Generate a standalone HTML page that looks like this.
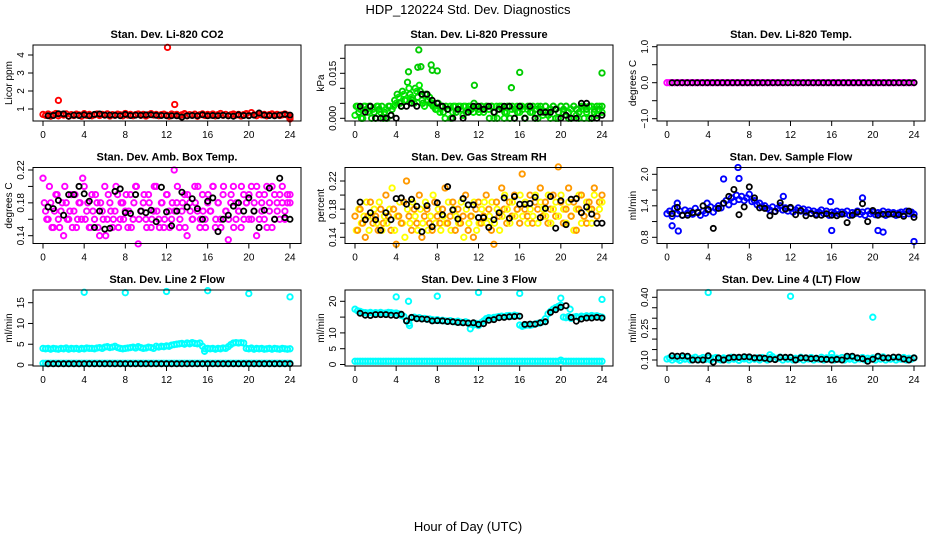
<!DOCTYPE html>
<html><head><meta charset="utf-8"><style>
html,body{margin:0;padding:0;background:#fff;}
svg{display:block;font-family:"Liberation Sans",sans-serif;}
</style></head><body>
<svg id="fig" width="936" height="540" viewBox="0 0 936 540" xmlns="http://www.w3.org/2000/svg">
<rect width="936" height="540" fill="#fff"/>
<text x="468" y="14" font-size="13" text-anchor="middle">HDP_120224  Std. Dev. Diagnostics</text>
<text x="468" y="531" font-size="13" text-anchor="middle">Hour of Day (UTC)</text>
</svg>
<script>
// ---- data (colored series evenly spaced over 0-24 h; black series every 0.5 h) ----
const hourTicks = [0,4,8,12,16,20,24];

const co2Red = [0.7,0.65,0.72,0.6,0.68,0.75,0.62,0.7,0.66,0.73,0.6,0.69,0.64,0.71,0.67,0.6,0.74,0.65,0.7,0.62,0.68,0.72,0.64,0.7,0.66,0.73,0.61,0.69,0.65,0.71,0.68,0.62,0.75,0.66,0.7,0.63,0.69,0.72,0.65,0.7,0.61,0.68,0.74,0.66,0.7,0.63,0.69,0.71,0.66,0.6,0.72,0.67,0.7,0.63,0.68,0.74,0.62,0.69,0.66,0.71,0.6,0.68,0.73,0.64,0.7,0.66,0.72,0.62,0.69,0.75,0.65,0.7,0.63,0.68,0.72,0.66,0.7,0.61,0.69,0.74,0.65,0.8,0.68,0.63,0.71,0.67,0.7,0.62,0.69,0.73,0.65,0.7,0.64,0.68,0.72,0.66,0.55];
const co2RedOutX = [1.5,12.1,12.8,24];
const co2RedOutY = [1.48,4.42,1.25,0.45];
const co2Black = [0.62,0.64,0.74,0.73,0.6,0.66,0.64,0.68,0.63,0.7,0.72,0.66,0.66,0.65,0.63,0.7,0.64,0.66,0.65,0.67,0.68,0.65,0.64,0.63,0.63,0.62,0.55,0.62,0.64,0.63,0.68,0.62,0.64,0.63,0.65,0.62,0.6,0.68,0.64,0.62,0.66,0.78,0.66,0.64,0.62,0.66,0.7,0.66];

const presGreenA = [0.001,0.004,0.003,0.0,0.004,0.002,0.004,0.003,0.0,0.004,0.002,0.0,0.003,0.004,0.001,0.004,0.005,0.007,0.004,0.008,0.006,0.01,0.007,0.005,0.009,0.011,0.006,0.004,0.008,0.007,0.005,0.004,0.003,0.002,0.004,0.0,0.003,0.004,0.002,0.004,0.003,0.004,0.001,0.004,0.003,0.004,0.002,0.004,0.003,0.004,0.002,0.004,0.003,0.004,0.0,0.004,0.003,0.004,0.0,0.002,0.004,0.003,0.0,0.004,0.002,0.004,0.0,0.003,0.004,0.002,0.0,0.004,0.003,0.001,0.004,0.002,0.0,0.004,0.003,0.0,0.004,0.002,0.004,0.0,0.003,0.004,0.001,0.0,0.003,0.004,0.002,0.0,0.004,0.003,0.001,0.004,0.002];
const presGreenB = [0.004,0.002,0.0,0.004,0.003,0.004,0.0,0.002,0.004,0.003,0.004,0.002,0.0,0.004,0.003,0.006,0.008,0.005,0.009,0.006,0.012,0.008,0.006,0.01,0.007,0.009,0.005,0.008,0.006,0.005,0.004,0.003,0.005,0.004,0.002,0.004,0.003,0.0,0.004,0.002,0.004,0.003,0.004,0.002,0.004,0.003,0.005,0.004,0.002,0.004,0.003,0.004,0.0,0.004,0.002,0.0,0.004,0.003,0.002,0.004,0.0,0.004,0.003,0.002,0.004,0.003,0.0,0.004,0.002,0.004,0.003,0.0,0.004,0.002,0.004,0.001,0.003,0.004,0.0,0.002,0.004,0.003,0.004,0.002,0.0,0.004,0.003,0.002,0.004,0.0,0.003,0.004,0.0,0.002,0.004,0.003,0.004];
const presOutX = [5.2,6.1,6.4,7.4,7.5,8.0,16.0,24.0,6.2,15.2,11.6];
const presOutY = [0.0155,0.017,0.0172,0.0178,0.016,0.0158,0.0153,0.0151,0.0228,0.0102,0.011];
const presBlack = [0.004,0.002,0.004,0.0,0.0,0.0,0.001,0.0,0.004,0.004,0.005,0.004,0.008,0.008,0.006,0.005,0.004,0.003,0.0,0.003,0.0,0.002,0.004,0.004,0.003,0.004,0.002,0.003,0.004,0.004,0.0,0.004,0.0,0.004,0.0,0.002,0.002,0.002,0.003,0.0,0.001,0.0,0.0,0.005,0.005,0.0,0.0,0.001];

const tempMag = [0,0,0,0,0,0,0,0,0,0,0,0,0,0,0,0,0,0,0,0,0,0,0,0,0,0,0,0,0,0,0,0,0,0,0,0,0,0,0,0,0,0,0,0,0,0,0,0,0,0,0,0,0,0,0,0,0,0,0,0,0,0,0,0,0,0,0,0,0,0,0,0,0,0,0,0,0,0,0,0,0,0,0,0,0,0,0,0,0,0,0,0,0,0,0,0,0];
const tempBlack = [0,0,0,0,0,0,0,0,0,0,0,0,0,0,0,0,0,0,0,0,0,0,0,0,0,0,0,0,0,0,0,0,0,0,0,0,0,0,0,0,0,0,0,0,0,0,0,0,0];

const boxMagA = [0.21,0.17,0.16,0.18,0.15,0.19,0.16,0.17,0.14,0.18,0.16,0.19,0.17,0.15,0.18,0.16,0.2,0.17,0.15,0.19,0.16,0.18,0.14,0.17,0.2,0.16,0.18,0.15,0.17,0.19,0.16,0.18,0.17,0.15,0.19,0.16,0.2,0.13,0.17,0.18,0.16,0.19,0.15,0.17,0.2,0.16,0.18,0.15,0.19,0.17,0.16,0.22,0.18,0.15,0.17,0.19,0.14,0.18,0.16,0.2,0.17,0.15,0.19,0.16,0.18,0.17,0.2,0.15,0.18,0.16,0.19,0.17,0.135,0.18,0.2,0.16,0.17,0.15,0.19,0.18,0.16,0.2,0.17,0.14,0.19,0.18,0.16,0.2,0.17,0.15,0.19,0.18,0.16,0.2,0.17,0.18,0.19];
const boxMagB = [0.18,0.16,0.2,0.15,0.17,0.19,0.15,0.18,0.2,0.16,0.17,0.15,0.19,0.16,0.18,0.21,0.16,0.18,0.15,0.17,0.19,0.15,0.18,0.16,0.14,0.19,0.17,0.16,0.2,0.15,0.18,0.16,0.19,0.17,0.15,0.18,0.2,0.16,0.17,0.19,0.15,0.18,0.16,0.2,0.17,0.15,0.18,0.16,0.19,0.15,0.18,0.17,0.2,0.16,0.18,0.15,0.19,0.17,0.16,0.18,0.2,0.16,0.17,0.15,0.19,0.17,0.2,0.16,0.18,0.15,0.2,0.17,0.16,0.19,0.15,0.18,0.17,0.2,0.16,0.18,0.19,0.16,0.18,0.2,0.16,0.17,0.19,0.15,0.18,0.2,0.16,0.17,0.19,0.18,0.16,0.19,0.18];
const boxBlack = [0.175,0.173,0.183,0.165,0.19,0.19,0.2,0.191,0.182,0.15,0.17,0.148,0.149,0.194,0.197,0.168,0.167,0.19,0.17,0.168,0.171,0.157,0.199,0.169,0.152,0.17,0.193,0.175,0.185,0.173,0.16,0.182,0.186,0.145,0.16,0.165,0.176,0.18,0.17,0.186,0.17,0.15,0.171,0.198,0.16,0.21,0.162,0.16];

const rhOrange = [0.17,0.15,0.18,0.16,0.14,0.17,0.19,0.16,0.17,0.15,0.18,0.16,0.2,0.17,0.15,0.18,0.13,0.17,0.16,0.19,0.22,0.17,0.15,0.18,0.16,0.2,0.14,0.17,0.18,0.16,0.15,0.19,0.17,0.16,0.18,0.21,0.16,0.17,0.19,0.15,0.18,0.16,0.17,0.2,0.15,0.17,0.14,0.18,0.19,0.16,0.17,0.2,0.18,0.15,0.13,0.19,0.17,0.21,0.18,0.16,0.19,0.17,0.2,0.18,0.16,0.23,0.18,0.17,0.2,0.16,0.19,0.18,0.21,0.17,0.19,0.16,0.18,0.2,0.17,0.24,0.19,0.16,0.18,0.21,0.17,0.19,0.15,0.18,0.2,0.17,0.16,0.19,0.18,0.21,0.17,0.19,0.2];
const rhYellow = [0.15,0.18,0.16,0.17,0.19,0.15,0.17,0.18,0.16,0.19,0.15,0.17,0.16,0.18,0.21,0.15,0.17,0.19,0.16,0.14,0.18,0.16,0.19,0.17,0.15,0.18,0.16,0.19,0.15,0.17,0.2,0.16,0.18,0.15,0.17,0.16,0.19,0.15,0.18,0.17,0.16,0.19,0.14,0.18,0.16,0.17,0.19,0.15,0.16,0.18,0.19,0.16,0.17,0.19,0.16,0.18,0.15,0.17,0.2,0.18,0.16,0.19,0.17,0.18,0.2,0.17,0.19,0.16,0.18,0.17,0.2,0.16,0.19,0.18,0.17,0.2,0.16,0.18,0.19,0.17,0.2,0.18,0.16,0.19,0.17,0.15,0.18,0.2,0.16,0.17,0.19,0.18,0.16,0.2,0.17,0.18,0.19];
const rhBlack = [0.19,0.165,0.175,0.165,0.15,0.175,0.165,0.195,0.196,0.187,0.194,0.184,0.148,0.185,0.155,0.189,0.172,0.212,0.179,0.166,0.195,0.186,0.186,0.168,0.168,0.154,0.165,0.175,0.196,0.167,0.198,0.187,0.187,0.188,0.197,0.168,0.181,0.198,0.153,0.192,0.158,0.194,0.195,0.175,0.183,0.173,0.16,0.16];

const flowBlue = [1.25,1.3,1.2,1.35,1.25,1.3,1.22,1.32,1.26,1.3,1.24,1.35,1.28,1.22,1.3,1.26,1.32,1.38,1.28,1.35,1.4,1.36,1.45,1.5,1.42,1.55,1.48,1.6,1.52,1.58,1.5,1.55,1.62,1.48,1.5,1.42,1.45,1.38,1.4,1.35,1.32,1.38,1.3,1.35,1.4,1.32,1.36,1.3,1.35,1.28,1.32,1.36,1.3,1.34,1.28,1.32,1.26,1.3,1.25,1.28,1.32,1.25,1.3,1.22,1.28,1.26,1.3,1.24,1.28,1.25,1.3,1.22,1.27,1.25,1.3,1.24,1.28,1.22,1.3,1.25,1.28,1.23,1.27,1.25,1.3,1.22,1.28,1.25,1.27,1.22,1.26,1.28,1.24,1.3,1.25,1.28,1.24];
const flowOutX = [0.5,1.1,5.5,6.9,7.0,11.3,15.9,16.0,19.0,20.5,21.0,24.0,1.0,3.9];
const flowOutY = [1.02,0.92,1.91,2.13,1.92,1.58,1.48,0.93,1.55,0.93,0.9,0.72,1.45,1.45];
const flowBlack = [1.25,1.37,1.22,1.22,1.27,1.27,1.4,1.33,0.97,1.35,1.45,1.58,1.71,1.23,1.38,1.76,1.55,1.36,1.35,1.21,1.29,1.46,1.34,1.37,1.23,1.31,1.21,1.25,1.22,1.22,1.25,1.22,1.21,1.24,1.08,1.22,1.28,1.44,1.1,1.31,1.22,1.24,1.24,1.24,1.23,1.2,1.3,1.18];

const line2Cyan = [4,3.9,4,3.8,4,3.9,3.8,4,3.9,4.1,3.8,4,3.9,4,3.8,4,3.9,4.1,4,4,3.9,4.1,4.2,4,4.3,4.4,4.2,4.3,4.5,4.2,4,3.9,4,4.1,4.2,4.3,4.1,4.4,4.2,4,4.1,4.3,4.2,4,4.5,4.3,4.5,4.4,4.6,4.5,4.8,4.9,5,5.1,5.2,5,5.3,5.1,5.4,5.2,5.1,5.3,4.5,3.9,4,3.9,4,3.8,4,3.9,4.1,4,4.4,4.9,5.3,5.4,5.3,5.4,5.3,4,3.9,4.1,3.8,4,3.9,4,3.8,3.9,4,3.8,4,3.9,3.8,4,3.9,3.8,3.9];
const line2Base = [0.4,0.4,0.4,0.4,0.4,0.4,0.4,0.4,0.4,0.4,0.4,0.4,0.4,0.4,0.4,0.4,0.4,0.4,0.4,0.4,0.4,0.4,0.4,0.4,0.4,0.4,0.4,0.4,0.4,0.4,0.4,0.4,0.4,0.4,0.4,0.4,0.4,0.4,0.4,0.4,0.4,0.4,0.4,0.4,0.4,0.4,0.4,0.4,0.4,0.4,0.4,0.4,0.4,0.4,0.4,0.4,0.4,0.4,0.4,0.4,0.4,0.4,0.4,0.4,0.4,0.4,0.4,0.4,0.4,0.4,0.4,0.4,0.4,0.4,0.4,0.4,0.4,0.4,0.4,0.4,0.4,0.4,0.4,0.4,0.4,0.4,0.4,0.4,0.4,0.4,0.4,0.4,0.4,0.4,0.4,0.4,0.4];
const line2OutX = [4,8,12,16,20,24,15.7];
const line2OutY = [17.5,17.4,17.7,17.9,17.2,16.4,3.3];
const line2Black = [0.3,0.3,0.3,0.3,0.3,0.3,0.3,0.3,0.3,0.3,0.3,0.3,0.3,0.3,0.3,0.3,0.3,0.3,0.3,0.3,0.3,0.3,0.3,0.3,0.3,0.3,0.3,0.3,0.3,0.3,0.3,0.3,0.3,0.3,0.3,0.3,0.3,0.3,0.3,0.3,0.3,0.3,0.3,0.3,0.3,0.3,0.3,0.3];

const line3Cyan = [17.5,17,16.8,16.5,16.4,16.3,16.5,16.2,16.4,16.3,16.5,16.2,16.3,16.5,16.4,16.2,16.3,16,15.5,15.2,13.8,13,14.8,15,14.6,14.8,14.5,14.6,14.3,14.4,14.2,14,14.2,13.9,14,13.8,13.7,13.9,13.6,13.5,13.7,13.4,13.3,13.5,13.2,12.8,12.5,13,12.3,13.2,13.8,14.5,14.8,14.6,14.9,15,15.2,15.3,15.1,15.4,15.5,15.3,15.6,15.4,12.5,12.1,12.3,12.5,12.4,12.6,12.8,13,13.2,13.5,14.5,16,16.8,17.5,18,18.4,18.8,15,14.8,15.2,14.6,15,15.2,14.9,15.3,15.1,15.4,15.2,15.5,15.3,15.4,15.2,15];
const line3Base = [1,1,1,1,1,1,1,1,1,1,1,1,1,1,1,1,1,1,1,1,1,1,1,1,1,1,1,1,1,1,1,1,1,1,1,1,1,1,1,1,1,1,1,1,1,1,1,1,1,1,1,1,1,1,1,1,1,1,1,1,1,1,1,1,1,1,1,1,1,1,1,1,1,1,1,1,1,1,1,1,1.4,1,1,1,1,1,1,1,1,1,1,1,1,1,1,1,1];
const line3OutX = [4,5.2,8,11.2,12,16,20,20.9,24,5.3];
const line3OutY = [21.4,20,21.6,11.3,22.8,22.5,21,17.5,20.6,12.3];
const line3Black = [16.2,15.6,15.5,15.8,15.8,15.8,15.6,15.5,15.9,13.8,14.9,14.5,14.4,14.3,13.8,13.9,13.8,13.6,13.5,13.3,13.2,13.1,13.2,12.7,12.9,14.0,14.2,14.8,14.9,15.1,15.2,15.3,12.7,12.8,12.8,13.2,13.5,16.5,17.3,18.1,18.6,14.9,13.7,14.4,14.7,14.7,14.9,14.7];

const line4Cyan = [0.105,0.11,0.1,0.112,0.105,0.098,0.11,0.104,0.112,0.1,0.108,0.113,0.1,0.106,0.112,0.103,0.11,0.1,0.108,0.112,0.104,0.1,0.11,0.106,0.1,0.113,0.104,0.11,0.098,0.108,0.105,0.112,0.1,0.108,0.104,0.11,0.1,0.112,0.106,0.1,0.11,0.116,0.104,0.108,0.114,0.1,0.11,0.104,0.112,0.1,0.108,0.104,0.113,0.1,0.11,0.105,0.112,0.1,0.108,0.104,0.113,0.1,0.11,0.105,0.112,0.1,0.109,0.104,0.112,0.1,0.108,0.104,0.112,0.1,0.109,0.105,0.112,0.1,0.108,0.104,0.11,0.1,0.113,0.104,0.115,0.1,0.108,0.104,0.112,0.1,0.108,0.104,0.112,0.1,0.108,0.104,0.11];
const line4OutX = [4,12,20,16,10];
const line4OutY = [0.423,0.405,0.305,0.13,0.125];
const line4Black = [0.12,0.118,0.12,0.118,0.1,0.1,0.1,0.12,0.09,0.11,0.1,0.11,0.113,0.113,0.116,0.115,0.11,0.11,0.108,0.104,0.102,0.113,0.113,0.113,0.1,0.11,0.11,0.106,0.108,0.104,0.103,0.1,0.103,0.1,0.118,0.118,0.11,0.106,0.094,0.104,0.118,0.11,0.11,0.114,0.114,0.105,0.1,0.11];

// ---- layout ----
const svg = document.getElementById('fig');
const NS = 'http://www.w3.org/2000/svg';
function mk(tag, attrs, parent){ const e=document.createElementNS(NS,tag); for(const k in attrs) e.setAttribute(k,attrs[k]); (parent||svg).appendChild(e); return e; }

const panels = [
 {name:'co2',title:'Stan. Dev. Li-820 CO2',ylab:'Licor ppm',c:0,r:0,ref:[1,109,4,55],ticks:[1,2,3,4],labels:['1','2','3','4'],
  series:[{d:co2Red,col:'#ff0000'},{d:co2Black,col:'#000',black:true},{x:co2RedOutX,y:co2RedOutY,col:'#ff0000'}]},
 {name:'pressure',title:'Stan. Dev. Li-820 Pressure',ylab:'kPa',c:1,r:0,ref:[0,118.3,0.015,73.3],ticks:[0,0.005,0.01,0.015,0.02],labels:['0.000','','','0.015',''],
  series:[{d:presGreenA,col:'#00ee00'},{d:presGreenB,col:'#00cc00',off:0.125},{x:presOutX,y:presOutY,col:'#00cc00'},{d:presBlack,col:'#000',black:true}]},
 {name:'temp',title:'Stan. Dev. Li-820 Temp.',ylab:'degrees C',c:2,r:0,ref:[0,82.7,1,46.7],ticks:[-1,-0.5,0,0.5,1],labels:['\u22121.0','','0.0','','1.0'],
  series:[{d:tempMag,col:'#ff00ff'},{d:tempBlack,col:'#000',black:true}]},
 {name:'amb-box-temp',title:'Stan. Dev. Amb. Box Temp.',ylab:'degrees C',c:0,r:1,ref:[0.14,235.7,0.22,170],ticks:[0.14,0.16,0.18,0.2,0.22],labels:['0.14','','0.18','','0.22'],
  series:[{d:boxMagA,col:'#ff00ff'},{d:boxMagB,col:'#ff00ff',off:0.125},{d:boxBlack,col:'#000',black:true}]},
 {name:'gas-rh',title:'Stan. Dev. Gas Stream RH',ylab:'percent',c:1,r:1,ref:[0.14,237.3,0.22,181],ticks:[0.14,0.16,0.18,0.2,0.22],labels:['0.14','','0.18','','0.22'],
  series:[{d:rhYellow,col:'#ffff00',off:0.125},{d:rhOrange,col:'#ff9900'},{d:rhBlack,col:'#000',black:true}]},
 {name:'sample-flow',title:'Stan. Dev. Sample Flow',ylab:'ml/min',c:2,r:1,ref:[0.8,237.3,2.0,174.3],ticks:[0.8,1.1,1.4,1.7,2.0],labels:['0.8','','1.4','','2.0'],
  series:[{d:flowBlue,col:'#0000ff'},{x:flowOutX,y:flowOutY,col:'#0000ff'},{d:flowBlack,col:'#000',black:true}]},
 {name:'line2-flow',title:'Stan. Dev. Line 2 Flow',ylab:'ml/min',c:0,r:2,ref:[0,365,15,302.7],ticks:[0,5,10,15],labels:['0','5','10','15'],
  series:[{d:line2Cyan,col:'#00ffff'},{d:line2Base,col:'#00ffff'},{x:line2OutX,y:line2OutY,col:'#00ffff'},{d:line2Black,col:'#000',black:true}]},
 {name:'line3-flow',title:'Stan. Dev. Line 3 Flow',ylab:'ml/min',c:1,r:2,ref:[0,364.5,20,301.3],ticks:[0,5,10,15,20],labels:['0','5','10','','20'],
  series:[{d:line3Cyan,col:'#00ffff'},{d:line3Base,col:'#00ffff'},{x:line3OutX,y:line3OutY,col:'#00ffff'},{d:line3Black,col:'#000',black:true}]},
 {name:'line4-flow',title:'Stan. Dev. Line 4 (LT) Flow',ylab:'ml/min',c:2,r:2,ref:[0.1,360,0.4,297.3],ticks:[0.1,0.15,0.2,0.25,0.3,0.35,0.4],labels:['0.10','','','0.25','','','0.40'],
  series:[{d:line4Cyan,col:'#00ffff'},{x:line4OutX,y:line4OutY,col:'#00ffff'},{d:line4Black,col:'#000',black:true}]}
];

panels.forEach(p=>{
  const L=33+312*p.c, R=301+312*p.c, T=45+122.5*p.r, B=121+122.5*p.r;
  const x0=43+312*p.c, xw=247;
  const xs=t=>x0+t/24*xw;
  const [v1,y1,v2,y2]=p.ref;
  const ys=v=>y1+(v-v1)*(y2-y1)/(v2-v1);
  const g=mk('g',{});
  
  
  const t=mk('text',{x:(L+R)/2,y:T-7,'font-size':11,'font-weight':'bold','text-anchor':'middle'},g);
  t.textContent=p.title;
  
  
  const yl=mk('text',{x:0,y:0,'font-size':10,'text-anchor':'middle',transform:`translate(${L-21},${(T+B)/2}) rotate(-90)`},g);
  yl.textContent=p.ylab;
  
  
  const pts=mk('g',{fill:'none'},g);
  
  
  // interleave colored series drawing order for mixed colors
  const draws=[];
  p.series.forEach((s,si)=>{
    let X,Y;
    if(s.x){X=s.x;Y=s.y;}
    else if(s.black){Y=s.d;X=s.d.map((v,i)=>0.5+i*23.5/(s.d.length-1));}
    else {Y=s.d;const off=s.off||0;X=s.d.map((v,i)=>off+i*(24-off)/(s.d.length-1));}
    for(let i=0;i<Y.length;i++) draws.push({x:X[i],y:Y[i],s:s,k:(s.black?2:0)*1000+i*2+(si%2)});
  });
  draws.sort((a,b)=>a.k-b.k);
  draws.forEach(d=>{
    const c=mk('circle',{cx:xs(d.x).toFixed(1),cy:ys(d.y).toFixed(1),r:d.s.black?2.6:2.7,stroke:d.s.col,'stroke-width':d.s.black?1.8:1.9},pts);
    
    
  });
  const bx=mk('rect',{x:L,y:T,width:R-L,height:B-T,fill:'none',stroke:'#000','stroke-width':1},g);
  
  
  hourTicks.forEach(h=>{
    mk('line',{x1:xs(h),x2:xs(h),y1:B,y2:B+5,stroke:'#000'},g);
    const tl=mk('text',{x:xs(h),y:B+17,'font-size':10,'text-anchor':'middle'},g);
    tl.textContent=h;
    
    
  });
  p.ticks.forEach((v,i)=>{
    mk('line',{x1:L-5,x2:L,y1:ys(v),y2:ys(v),stroke:'#000'},g);
    if(p.labels[i]){
      const tl=mk('text',{x:0,y:0,'font-size':10,'text-anchor':'middle',transform:`translate(${L-9},${ys(v)}) rotate(-90)`},g);
      tl.textContent=p.labels[i];
      
      
    }
  });
});
</script>
</body></html>
